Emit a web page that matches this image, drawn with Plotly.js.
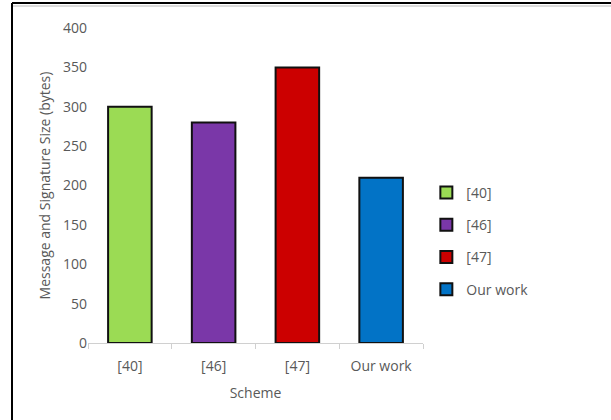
<!DOCTYPE html>
<html>
<head>
<meta charset="utf-8">
<script src="https://cdn.plot.ly/plotly-3.0.1.min.js"></script>
<style>
html,body{margin:0;padding:0;background:#fff;}
#chart{width:611px;height:420px;}
</style>
</head>
<body>
<div id="chart"></div>
<script>
const categories = ["[40]", "[46]", "[47]", "Our work"];
const values = [300, 280, 350, 210];
const colors = ["#9BDB54", "#7A37A8", "#CC0000", "#0273C6"];
const yTicks = [0, 50, 100, 150, 200, 250, 300, 350, 400];

const W = 611, H = 420;
const L = 88, R = 188, T = 28, B = 77;
const pw = W - L - R, ph = H - T - B;
// frame position in pixels converted to paper coords
const fx = (12 - L) / pw;
const fy = (H - B - 3) / ph;
const fy2 = (H - B - 6) / ph;

const traces = categories.map((c, i) => ({
  type: "bar",
  x: [c],
  y: [values[i]],
  name: c,
  legendgroup: "g" + i,
  width: 0.52,
  marker: {color: colors[i], line: {color: "#111", width: 2}},
  hoverinfo: "x+y"
}));

const layout = {
  width: W, height: H,
  margin: {l: L, r: R, t: T, b: B, pad: 0},
  paper_bgcolor: "#fff",
  plot_bgcolor: "#fff",
  barmode: "overlay",
  font: {family: "Open Sans, Liberation Sans, sans-serif", color: "#595959", size: 14},
  showlegend: true,
  legend: {
    x: 1.01, xanchor: "left", xref: "paper",
    y: 0.324, yanchor: "middle",
    font: {size: 14, color: "#595959"},
    tracegroupgap: 11,
    itemwidth: 30,
    bgcolor: "rgba(0,0,0,0)"
  },
  xaxis: {
    type: "category",
    categoryorder: "array",
    categoryarray: categories,
    tickson: "boundaries",
    ticks: "outside",
    ticklen: 5,
    tickcolor: "#d0d0d0",
    showline: true,
    linecolor: "#d0d0d0",
    linewidth: 1,
    showgrid: false,
    zeroline: false,
    ticklabelstandoff: 10,
    tickfont: {size: 14, color: "#595959"},
    title: {text: "Scheme", font: {size: 14, color: "#595959"}, standoff: 14}
  },
  yaxis: {
    range: [0, 400],
    tickvals: yTicks,
    ticktext: yTicks.map(String),
    showgrid: false,
    zeroline: false,
    showline: false,
    ticks: "",
    tickfont: {size: 14, color: "#595959"},
    title: {text: "Message and Signature Size (bytes)", font: {size: 14, color: "#595959"}, standoff: 9}
  },
  shapes: [
    {type: "line", xref: "paper", yref: "paper", x0: fx, x1: 2, y0: fy2, y1: fy2, line: {color: "#dcdcdc", width: 2}},
    {type: "line", xref: "paper", yref: "paper", x0: fx, x1: 2, y0: fy, y1: fy, line: {color: "#000", width: 2}},
    {type: "line", xref: "paper", yref: "paper", x0: fx, x1: fx, y0: -1, y1: fy, line: {color: "#000", width: 2}}
  ]
};

Plotly.newPlot("chart", traces, layout, {displayModeBar: false, staticPlot: true});
</script>
</body>
</html>
